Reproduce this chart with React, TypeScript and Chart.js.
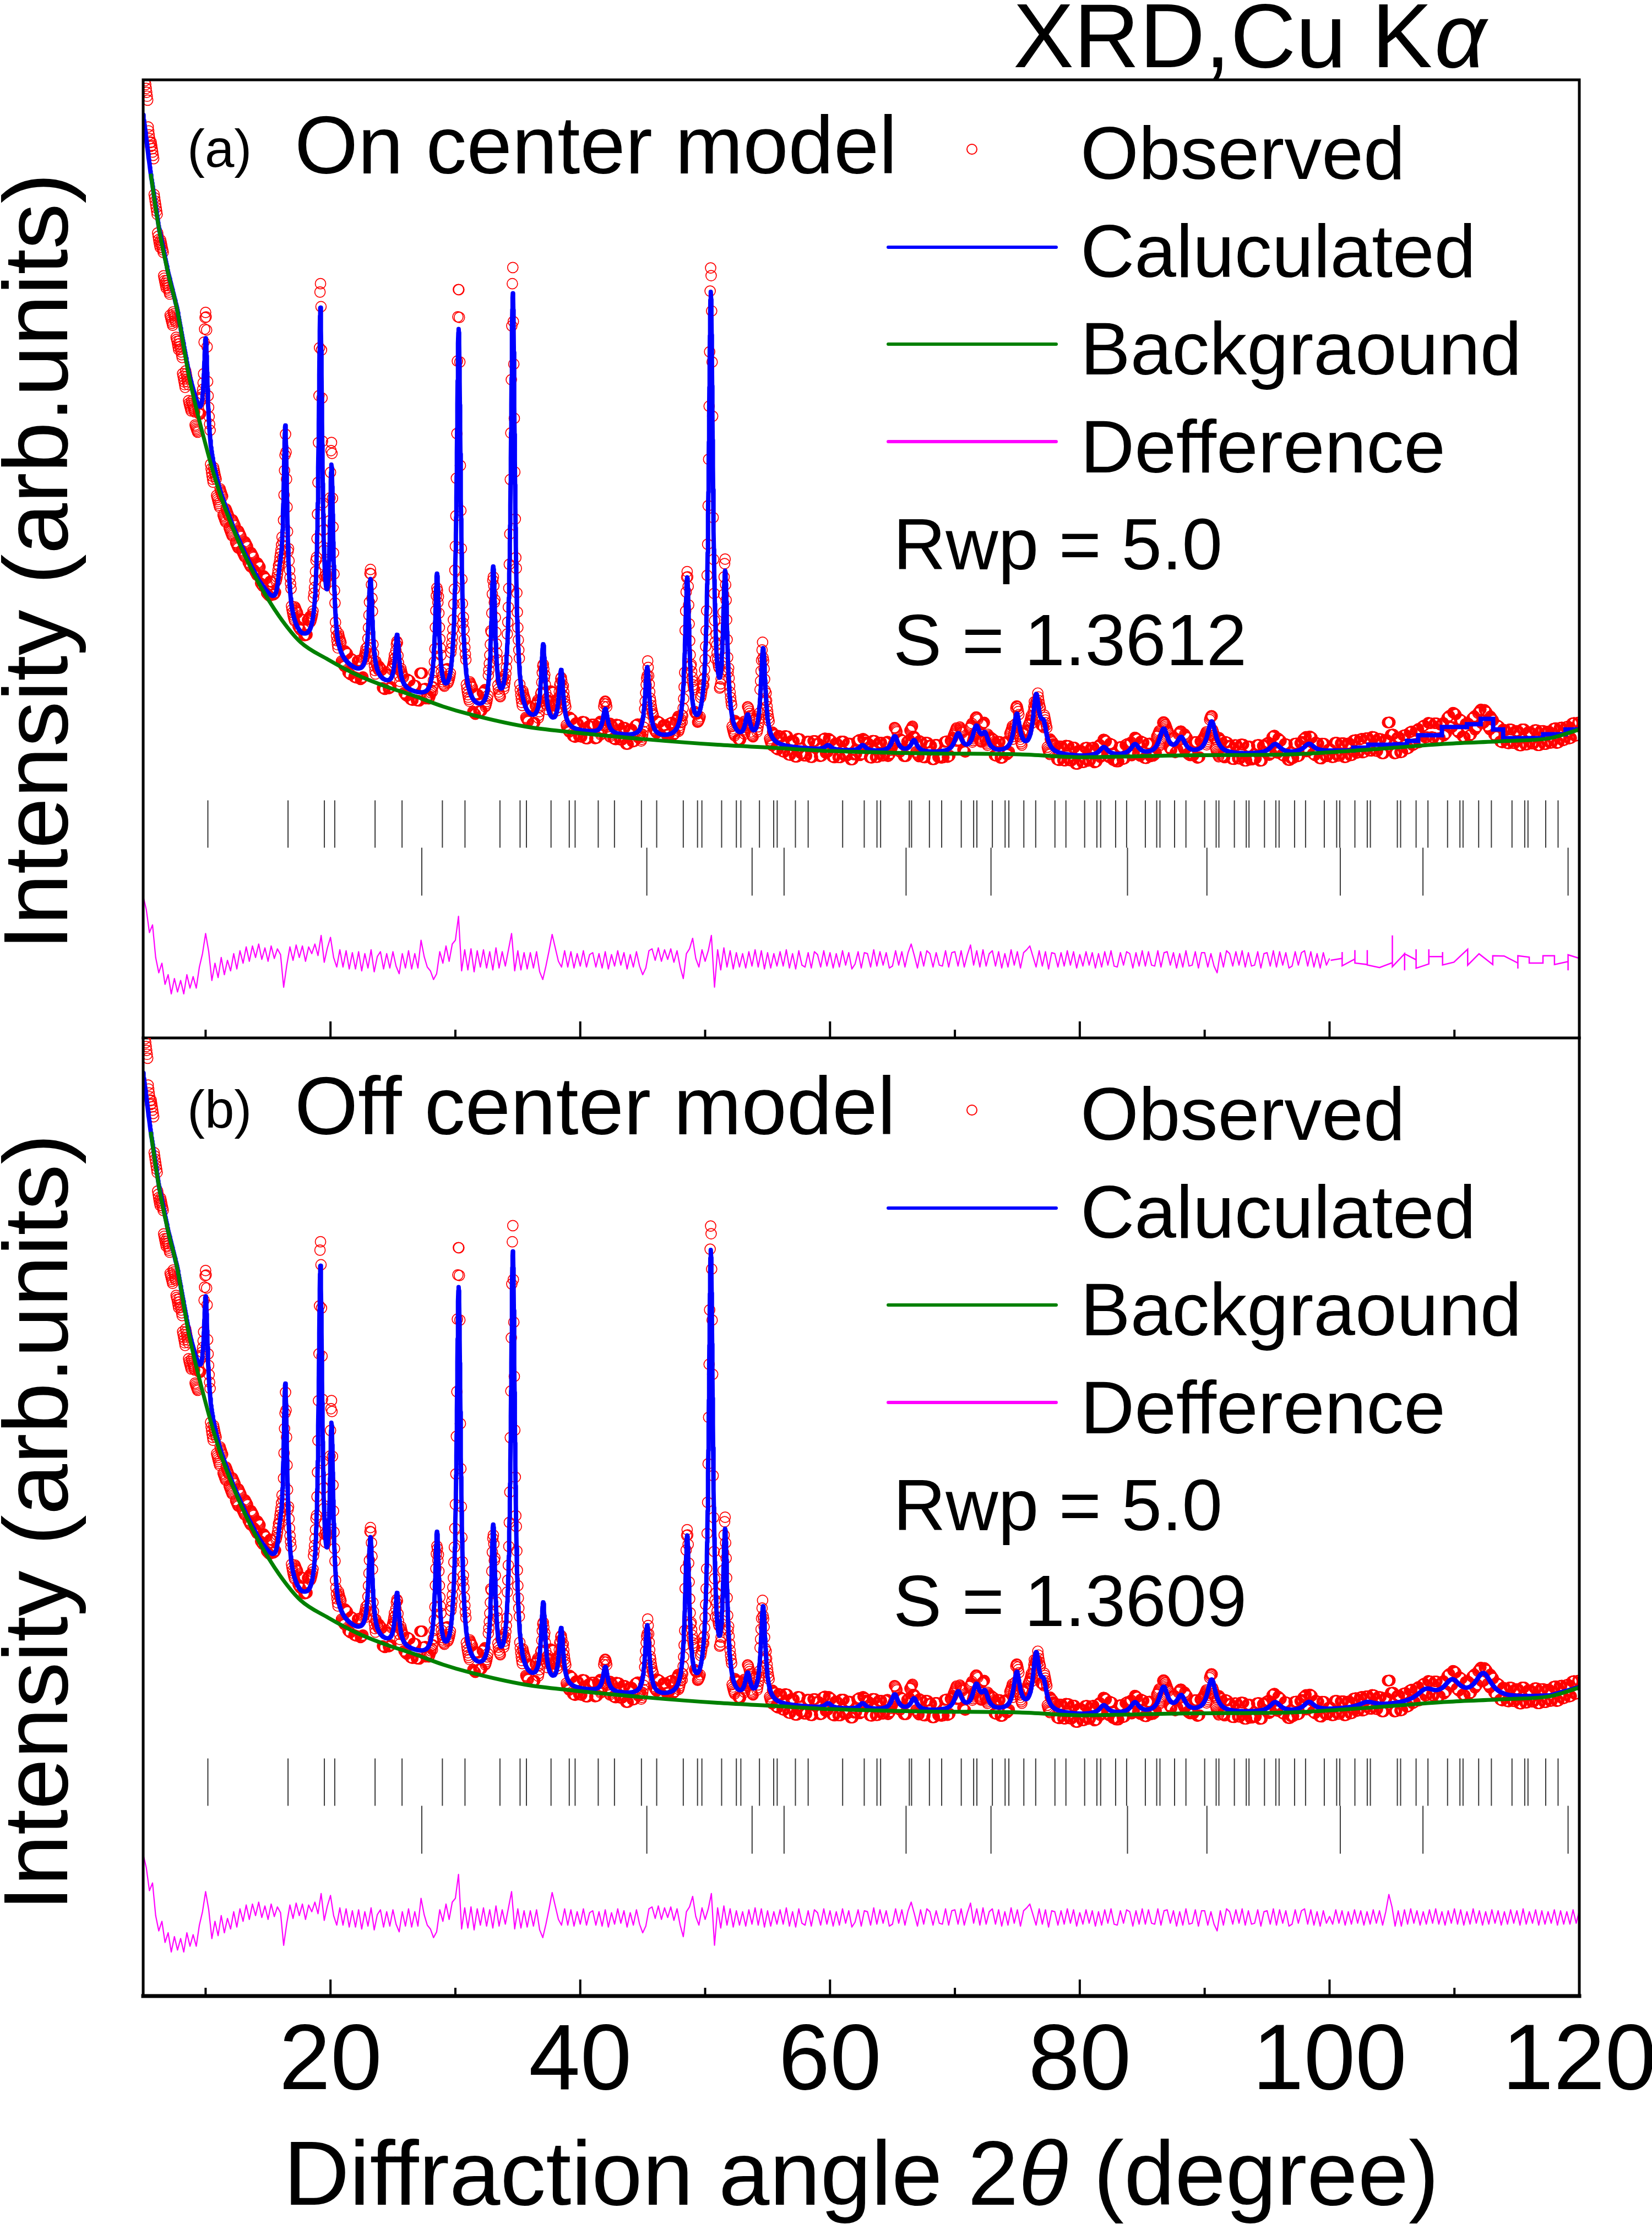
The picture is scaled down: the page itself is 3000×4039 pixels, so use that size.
import { useEffect, useRef } from 'react';
import { Chart, registerables } from 'chart.js';

Chart.register(...registerables);

const FONT = '"Liberation Sans", Arial, Helvetica, sans-serif';

// ---- axis ----
const xMin = 5;
const xMax = 120;
const xMajorTicks = [20, 40, 60, 80, 100, 120];
const xMinorTicks = [10, 30, 50, 70, 90, 110];

// ---- refined background (2θ, intensity) ----
const bgAngles = [5.0, 5.6, 6.26, 7.0, 7.72, 8.68, 10.19, 11.2, 12.22, 13.2, 14.24, 15.9, 17.61, 19.8, 22.11, 24.4, 26.6, 29.0, 31.1, 35.6, 39.4, 45.0, 51.0, 55.3, 60.0, 67.7, 75.2, 80.2, 88.5, 96.9, 101.0, 105.2, 109.4, 114.3, 117.7, 120.0];
const bgValues = [96.3, 90.2, 84.5, 79.8, 76.0, 69.0, 61.0, 56.6, 53.1, 50.2, 47.5, 44.0, 41.3, 39.5, 37.9, 36.7, 35.75, 34.6, 33.8, 32.5, 31.9, 31.2, 30.6, 30.3, 29.95, 29.7, 29.6, 29.3, 29.5, 29.6, 29.9, 30.3, 30.7, 31.0, 31.3, 32.2];
const bgDrawFrom = 5.6;

// ---- reflections of the calculated profile ----
const peakAngles = [10.01, 15.95, 16.38, 19.19, 20.08, 23.2, 25.33, 28.53, 30.26, 33.03, 34.6, 37.03, 38.47, 42.0, 45.36, 48.56, 50.45, 51.6, 53.4, 54.64, 59.84, 62.6, 65.17, 66.71, 70.25, 71.7, 72.4, 74.95, 76.5, 77.1, 81.9, 84.4, 86.7, 88.1, 90.55, 95.63, 98.34, 103.0, 107.7, 109.8, 112.3];
const peakHeights = [11.0, 2.5, 20.0, 35.5, 19.0, 10.3, 5.5, 13.0, 39.5, 15.0, 44.5, 8.3, 6.0, 2.6, 7.3, 16.5, 46.5, 16.5, 2.5, 10.0, 0.5, 0.6, 1.6, 1.2, 1.9, 2.5, 1.6, 3.9, 5.7, 2.4, 0.9, 1.1, 2.6, 1.6, 3.4, 1.0, 0.9, 0.5, 1.2, 1.9, 2.6];
const peakWidths = [0.36, 0.4, 0.36, 0.36, 0.34, 0.38, 0.38, 0.38, 0.4, 0.38, 0.4, 0.4, 0.4, 0.45, 0.42, 0.42, 0.42, 0.42, 0.5, 0.45, 0.6, 0.6, 0.6, 0.6, 0.7, 0.7, 0.6, 0.6, 0.6, 0.6, 0.8, 0.8, 0.8, 0.8, 0.8, 1.0, 1.0, 1.5, 1.8, 1.6, 1.6];

// ---- observed − calculated, every 0.25° from 5° to 100° ----
const diffStart = 5;
const diffStep = 0.25;
const diffValues = [
  6.6, 5.2, 2.8, 3.6, // 5
  0.2, -1.4, -0.4, -2.6, // 6
  -1.6, -3.6, -2.0, -3.4, // 7
  -2.2, -3.6, -1.6, -3.0, // 8
  -1.8, -3.0, -0.8, 0.6, // 9
  2.7, 0.8, -2.2, -0.4, // 10
  -1.9, 0.2, -1.6, -0.1, // 11
  -1.2, 0.6, -1.0, 0.9, // 12
  -0.4, 1.3, -0.2, 1.4, // 13
  0.2, 1.6, 0.0, 1.2, // 14
  -0.2, 1.4, 0.1, 1.1, // 15
  0.5, -2.9, -0.6, 1.3, // 16
  -0.1, 1.5, 0.2, 1.4, // 17
  -0.2, 1.3, 0.6, 1.6, // 18
  0.4, 2.5, -0.3, 1.2, // 19
  2.3, 0.2, -0.8, 1.0, // 20
  -0.8, 0.9, -1.0, 0.7, // 21
  -1.0, 0.8, -1.2, 0.6, // 22
  -0.9, 1.0, -1.3, 0.3, // 23
  0.8, -1.0, 0.6, -0.9, // 24
  0.8, -0.7, -1.5, 0.6, // 25
  -0.9, 0.9, -1.0, 0.6, // 26
  -0.9, 2.0, 0.3, -0.8, // 27
  -1.2, -2.1, -1.5, 0.8, // 28
  -0.4, 1.4, -0.2, 1.6, // 29
  2.0, 4.5, -1.2, 1.0, // 30
  -1.1, 1.1, -1.3, 0.9, // 31
  -0.8, 1.0, -0.9, 0.8, // 32
  -1.1, 1.2, -0.9, 0.8, // 33
  -0.7, 1.0, 2.7, -1.2, // 34
  0.9, -1.1, 0.7, -1.0, // 35
  0.7, -0.9, 0.8, -1.3, // 36
  -2.1, -0.7, 0.9, 2.6, // 37
  1.2, -0.2, -0.8, 0.9, // 38
  -0.8, 0.8, -0.9, 0.6, // 39
  -0.7, 0.9, -0.8, 0.5, // 40
  0.7, -0.8, 0.6, -0.9, // 41
  0.8, -1.0, 0.5, -0.7, // 42
  0.9, -0.6, 0.7, -1.0, // 43
  0.5, -0.8, 0.8, -0.7, // 44
  -1.6, -0.9, 0.9, 1.1, // 45
  -0.1, 1.2, -0.2, 1.0, // 46
  0.0, 1.1, -0.3, 0.9, // 47
  -0.8, -2.0, 0.6, 1.1, // 48
  2.2, 0.1, -0.8, 1.0, // 49
  -0.2, 0.9, 2.5, -2.9, // 50
  1.0, -1.1, 1.2, -0.8, // 51
  0.9, -1.0, 0.7, -0.8, // 52
  0.6, -0.9, 0.8, -0.7, // 53
  1.0, -0.8, 0.9, -1.0, // 54
  0.7, -0.9, 0.6, -0.7, // 55
  0.8, -0.7, 1.0, -0.9, // 56
  0.6, -1.0, 0.9, -0.6, // 57
  -0.8, 0.7, -0.9, 0.8, // 58
  0.5, -0.8, 0.9, -0.7, // 59
  0.7, -0.9, 0.6, -0.8, // 60
  0.9, -0.6, 0.7, -1.0, // 61
  -0.5, 0.8, -0.9, 0.7, // 62
  0.6, -0.8, 1.0, -0.7, // 63
  0.8, -0.6, 0.7, -0.9, // 64
  -0.7, 0.9, -0.6, 0.8, // 65
  -0.8, 0.7, 1.6, 0.4, // 66
  -0.9, 0.8, -0.7, 0.9, // 67
  0.6, -0.8, 0.7, -0.6, // 68
  -0.7, 0.9, -0.8, 0.7, // 69
  0.8, -0.7, 0.9, -0.8, // 70
  0.5, 1.5, -0.6, 0.9, // 71
  -0.8, 1.0, -0.7, 0.6, // 72
  0.9, -0.7, 0.8, -0.9, // 73
  0.6, -0.8, 1.0, -0.6, // 74
  0.8, -0.9, 0.7, 1.0, // 75
  1.4, 0.3, -0.8, 0.9, // 76
  -0.7, 0.8, -1.0, 0.7, // 77
  0.6, -0.8, 0.7, -0.7, // 78
  0.9, -0.6, 0.8, -0.9, // 79
  0.5, -0.7, 0.8, -0.6, // 80
  0.7, -0.9, 0.6, -0.8, // 81
  0.8, -0.6, 0.9, -0.7, // 82
  -0.8, 0.7, -0.6, 0.8, // 83
  0.6, -0.9, 0.7, -0.7, // 84
  0.9, -0.7, 0.8, -0.6, // 85
  -0.7, 0.9, -0.8, 0.7, // 86
  0.8, -0.6, 0.7, -0.9, // 87
  0.6, -0.8, 0.9, -0.7, // 88
  -0.6, 0.8, -0.9, 0.7, // 89
  0.7, -0.8, 0.6, -0.7, // 90
  -1.4, 0.7, -0.8, 0.9, // 91
  0.6, -0.7, 0.8, -0.6, // 92
  0.9, -0.8, 0.7, -0.7, // 93
  -0.6, 0.8, -0.9, 0.6, // 94
  0.7, -0.7, 0.9, -0.8, // 95
  0.8, -0.6, 0.7, -0.9, // 96
  -0.7, 0.8, -0.6, 0.7, // 97
  0.9, -0.7, 0.8, -0.8, // 98
  0.6, -0.9, 0.7, -0.6, // 99
  0.1, // 100
];

// 100.25° – 120° (off-center refinement, same step)
const diffHighValues = [
  -0.7, 0.8, -0.6, // 100
  0.7, -0.8, 0.6, -0.7, // 101
  0.8, -0.6, 0.7, -0.8, // 102
  0.6, -0.7, 0.8, -0.6, // 103
  0.7, -0.8, 0.6, 2.4, // 104
  1.1, -0.9, 0.7, -0.9, // 105
  0.8, -0.7, 0.9, -0.6, // 106
  0.7, -0.8, 0.6, -0.7, // 107
  0.8, -0.6, 0.9, -0.7, // 108
  0.6, -0.8, 0.7, -0.6, // 109
  0.9, -0.7, 0.8, -0.8, // 110
  0.6, -0.7, 0.9, -0.6, // 111
  0.7, -0.8, 0.6, -0.7, // 112
  0.8, -0.6, 0.7, -0.8, // 113
  0.6, -0.7, 0.8, -0.6, // 114
  0.7, -0.8, 0.9, -0.7, // 115
  0.6, -0.6, 0.8, -0.8, // 116
  0.7, -0.7, 0.6, -0.6, // 117
  0.8, -0.8, 0.7, -0.7, // 118
  0.6, -0.7, 0.8, -0.6, // 119
  0.7, // 120
];

// on-center refinement above 100°: coarse difference trace
const diffCoarseAngles = [100.09, 101.01, 101.01, 101.01, 102.03, 102.03, 102.03, 103.02, 103.02, 103.02, 104.0, 105.03, 105.03, 105.03, 106.01, 106.01, 106.01, 106.93, 106.93, 106.93, 107.95, 107.95, 107.95, 109.05, 109.05, 109.05, 109.96, 111.06, 111.06, 111.97, 113.07, 113.07, 113.98, 115.08, 115.08, 115.08, 115.99, 115.99, 117.09, 117.09, 118.01, 118.01, 119.1, 119.1, 119.1, 120.02];
const diffCoarseValues = [-0.1, 0.1, 0.77, -0.67, 0.04, 0.96, -0.38, -0.54, 0.96, -0.58, -0.86, -0.35, 2.5, -0.77, 0.58, -1.15, 0.58, -0.04, 1.06, -0.92, -0.48, 1.06, 0.29, 0.29, 0.77, -0.58, -0.29, 1.06, -0.61, 0.58, -0.54, 0.38, 0.35, -0.38, -0.96, 0.38, 0.23, -0.38, -0.38, 0.38, 0.38, -0.54, -0.23, -1.15, 0.48, 0.1];

// on-center refinement above 100°: stepped calculated trace
const calcStepAngles = [100.0, 101.9, 103.1, 105.2, 106.2, 107.1, 109.0, 111.0, 112.1, 113.1, 113.9, 117.1, 118.9, 120.0];
const calcStepValues = [30.0, 30.3, 30.6, 30.65, 31.0, 31.6, 32.45, 32.75, 33.3, 32.2, 31.3, 31.7, 32.2, 32.2];

// ---- Bragg reflection markers ----
const braggMain = [10.18, 16.6, 19.51, 20.34, 23.57, 25.73, 28.96, 30.77, 33.57, 35.18, 35.69, 37.66, 39.12, 39.59, 41.44, 42.74, 44.9, 46.12, 48.25, 49.39, 49.74, 51.32, 52.5, 52.86, 54.35, 55.49, 55.77, 57.23, 58.25, 61.01, 62.74, 63.76, 64.05, 66.35, 66.53, 67.96, 68.94, 70.51, 71.5, 71.76, 73.0, 74.02, 74.32, 75.52, 76.47, 78.01, 78.89, 80.39, 81.37, 81.67, 82.87, 83.75, 85.25, 86.16, 86.42, 87.59, 88.5, 90.0, 90.92, 91.14, 92.38, 93.33, 93.55, 94.79, 95.7, 95.96, 97.2, 98.08, 99.58, 100.57, 100.82, 102.03, 103.02, 103.27, 105.43, 105.69, 106.93, 107.88, 109.45, 110.44, 110.69, 111.94, 112.96, 114.61, 115.63, 115.89, 117.31, 118.3];
const braggSecond = [27.31, 45.33, 53.76, 56.32, 66.09, 72.89, 83.82, 90.18, 100.86, 107.48, 119.1];

// ---- panel texts ----
const panelTags = ['(a)', '(b)'];
const panelModels = ['On center model', 'Off center model'];
const panelRwp = ['Rwp = 5.0', 'Rwp = 5.0'];
const panelS = ['S = 1.3612', 'S = 1.3609'];
const legendLabels = ['Observed', 'Caluculated', 'Backgraound', 'Defference'];

const OBS_STEP = 0.04;
const CALC_STEP = 0.02;
const DIFF_BASE = 8.2;
const BRAGG_MAIN_RANGE = [19.85, 24.8];
const BRAGG_SECOND_RANGE = [14.85, 19.85];

function bgAt(x: number) {
  let i = 0;
  while (i < bgAngles.length - 2 && x > bgAngles[i + 1]) i++;
  const t = (x - bgAngles[i]) / (bgAngles[i + 1] - bgAngles[i]);
  return bgValues[i] + t * (bgValues[i + 1] - bgValues[i]);
}

function calcAt(x: number) {
  let y = bgAt(x);
  for (let i = 0; i < peakAngles.length; i++) {
    const t = (x - peakAngles[i]) / (peakWidths[i] / 2);
    y += peakHeights[i] / (1 + t * t);
  }
  return y;
}

const diffAll = diffValues.concat(diffHighValues);
function diffAt(x: number) {
  const i = Math.round((x - diffStart) / diffStep);
  return diffAll[Math.max(0, Math.min(diffAll.length - 1, i))];
}

function gridPoints(from: number, to: number, step: number) {
  const n = Math.round((to - from) / step);
  const xs: number[] = [];
  for (let i = 0; i <= n; i++) xs.push(+(from + i * step).toFixed(3));
  return xs;
}

const observedPoints = gridPoints(xMin, xMax, OBS_STEP).map((x) => ({ x, y: calcAt(x) + diffAt(x) }));
const calcPointsFull = gridPoints(xMin, xMax, CALC_STEP).map((x) => ({ x, y: calcAt(x) }));
const calcPointsTo100 = calcPointsFull.filter((p) => p.x <= 100);
const calcStepPoints = calcStepAngles.map((x, i) => ({ x, y: calcStepValues[i] }));
const bgPoints = bgAngles.map((x, i) => ({ x, y: bgValues[i] })).filter((p) => p.x >= bgDrawFrom);

const diffFinePoints = diffValues.map((d, i) => ({ x: diffStart + i * diffStep, y: DIFF_BASE + d }));
const diffAllPoints = diffAll.map((d, i) => ({ x: diffStart + i * diffStep, y: DIFF_BASE + d }));
const diffCoarsePoints = diffCoarseAngles.map((x, i) => ({ x, y: DIFF_BASE + diffCoarseValues[i] }));

function braggRow(list: number[], range: number[]) {
  const pts: { x: number; y: number | null }[] = [];
  list.forEach((x) => {
    pts.push({ x, y: range[0] }, { x, y: range[1] }, { x, y: null });
  });
  return pts;
}

// page layout of the two panels
const CANVAS_TOP = [0, 1860];
const CANVAS_HEIGHT = [1900, 2179];
const PANEL_SHIFT = [0, 1745];

function drawDecor(chart: any, panel: number) {
  const ctx: CanvasRenderingContext2D = chart.ctx;
  const { left, right, top, bottom } = chart.chartArea;
  const xs = chart.scales.x;
  const oy = -CANVAS_TOP[panel];
  const sh = PANEL_SHIFT[panel];
  const isBottom = panel === 1;

  ctx.save();
  ctx.strokeStyle = '#000';
  ctx.fillStyle = '#000';

  // frame
  ctx.lineCap = 'square';
  ctx.lineWidth = 5;
  ctx.beginPath();
  ctx.moveTo(left, bottom);
  ctx.lineTo(left, top);
  if (!isBottom) ctx.lineTo(right, top);
  else ctx.moveTo(right, top);
  ctx.lineTo(right, bottom);
  ctx.stroke();
  ctx.lineWidth = isBottom ? 7 : 5;
  ctx.beginPath();
  ctx.moveTo(left, bottom);
  ctx.lineTo(right, bottom);
  ctx.stroke();

  // inward ticks along the bottom edge
  ctx.lineCap = 'butt';
  ctx.lineWidth = 4;
  xMajorTicks.forEach((v) => {
    const px = xs.getPixelForValue(v);
    ctx.beginPath();
    ctx.moveTo(px, bottom);
    ctx.lineTo(px, bottom - 30);
    ctx.stroke();
  });
  xMinorTicks.forEach((v) => {
    const px = xs.getPixelForValue(v);
    ctx.beginPath();
    ctx.moveTo(px, bottom);
    ctx.lineTo(px, bottom - 15);
    ctx.stroke();
  });

  ctx.textBaseline = 'alphabetic';
  ctx.textAlign = 'left';

  // panel tag and model name
  ctx.font = `96px ${FONT}`;
  ctx.fillText(panelTags[panel], 340, 303 + sh + oy);
  ctx.font = `148px ${FONT}`;
  ctx.fillText(panelModels[panel], 535, 315 + sh + oy);

  // legend
  ctx.strokeStyle = '#ff0000';
  ctx.lineWidth = 2;
  ctx.beginPath();
  ctx.arc(1765, 271 + sh + oy, 9, 0, Math.PI * 2);
  ctx.stroke();
  const legendColors = ['#0000ff', '#008000', '#ff00ff'];
  const legendLineY = [449, 625, 802];
  ctx.lineCap = 'round';
  ctx.lineWidth = 6;
  legendColors.forEach((c, i) => {
    ctx.strokeStyle = c;
    ctx.beginPath();
    ctx.moveTo(1613, legendLineY[i] + sh + oy);
    ctx.lineTo(1918, legendLineY[i] + sh + oy);
    ctx.stroke();
  });
  ctx.font = `136px ${FONT}`;
  const legendBase = [325, 503, 680, 858];
  legendLabels.forEach((t, i) => ctx.fillText(t, 1962, legendBase[i] + sh + oy));

  ctx.font = `132px ${FONT}`;
  ctx.fillText(panelRwp[panel], 1622, 1034 + sh + oy);
  ctx.fillText(panelS[panel], 1622, 1208 + sh + oy);

  // y axis title
  ctx.save();
  ctx.translate(122, 1020 + sh + oy);
  ctx.rotate(-Math.PI / 2);
  ctx.textAlign = 'center';
  ctx.font = `166px ${FONT}`;
  ctx.fillText('Intensity (arb.units)', 0, 0);
  ctx.restore();

  if (!isBottom) {
    // header
    ctx.font = `165px ${FONT}`;
    const head = 'XRD,Cu K';
    ctx.fillText(head, 1840, 122);
    const w = ctx.measureText(head).width;
    ctx.font = `italic 165px ${FONT}`;
    ctx.fillText('α', 1840 + w + 4, 122);
  } else {
    // x axis title with italic theta
    const parts: [string, boolean][] = [['Diffraction angle 2', false], ['θ', true], [' (degree)', false]];
    let total = 0;
    const widths = parts.map(([t, it]) => {
      ctx.font = `${it ? 'italic ' : ''}166px ${FONT}`;
      const w = ctx.measureText(t).width;
      total += w;
      return w;
    });
    let x = (left + right) / 2 - total / 2;
    parts.forEach(([t, it], i) => {
      ctx.font = `${it ? 'italic ' : ''}166px ${FONT}`;
      ctx.fillText(t, x, 4004 + oy);
      x += widths[i];
    });
  }
  ctx.restore();
}

function buildConfig(panel: number): any {
  const isTop = panel === 0;
  const datasets: any[] = [
    {
      label: legendLabels[0],
      data: observedPoints,
      showLine: false,
      pointRadius: 9.5,
      pointBorderWidth: 1.7,
      pointBorderColor: '#ff0000',
      pointBackgroundColor: 'rgba(255,255,255,0)',
      order: 9,
    },
    {
      label: legendLabels[1],
      data: isTop ? calcPointsTo100 : calcPointsFull,
      borderColor: '#0000ff',
      borderWidth: 8,
      borderJoinStyle: 'round',
      borderCapStyle: 'round',
      pointRadius: 0,
      order: 8,
    },
  ];
  if (isTop) {
    datasets.push({
      label: legendLabels[1] + ' >100',
      data: calcStepPoints,
      stepped: 'before',
      borderColor: '#0000ff',
      borderWidth: 8,
      borderJoinStyle: 'miter',
      pointRadius: 0,
      order: 7,
    });
  }
  datasets.push(
    {
      label: legendLabels[2],
      data: bgPoints,
      borderColor: '#008000',
      borderWidth: 7,
      cubicInterpolationMode: 'monotone',
      pointRadius: 0,
      order: 6,
    },
    {
      label: legendLabels[3],
      data: isTop ? diffFinePoints : diffAllPoints,
      borderColor: '#ff00ff',
      borderWidth: 2.2,
      borderJoinStyle: 'round',
      pointRadius: 0,
      order: 5,
    },
    {
      label: 'Bragg main',
      data: braggRow(braggMain, BRAGG_MAIN_RANGE),
      borderColor: '#3a3a3a',
      borderWidth: 2,
      pointRadius: 0,
      spanGaps: false,
      order: 3,
    },
    {
      label: 'Bragg second',
      data: braggRow(braggSecond, BRAGG_SECOND_RANGE),
      borderColor: '#3a3a3a',
      borderWidth: 2,
      pointRadius: 0,
      spanGaps: false,
      order: 2,
    }
  );
  if (isTop) {
    datasets.push({
      label: legendLabels[3] + ' >100',
      data: diffCoarsePoints,
      borderColor: '#ff00ff',
      borderWidth: 2.5,
      pointRadius: 0,
      order: 4,
    });
  }

  const xScale: any = {
    type: 'linear',
    min: xMin,
    max: xMax,
    display: !isTop,
    position: 'bottom',
    grid: { display: false, drawTicks: false },
    border: { display: false },
    afterBuildTicks: (s: any) => {
      s.ticks = xMajorTicks.map((v) => ({ value: v }));
    },
    ticks: {
      autoSkip: false,
      maxRotation: 0,
      minRotation: 0,
      padding: 22,
      color: '#000',
      font: { family: FONT, size: 168 },
    },
  };
  if (!isTop) {
    xScale.afterFit = (s: any) => {
      s.height = 414;
      s.paddingLeft = 0;
      s.paddingRight = 0;
    };
  }

  return {
    type: 'line',
    data: { datasets },
    options: {
      animation: false,
      responsive: false,
      devicePixelRatio: 1,
      events: [],
      layout: {
        padding: isTop
          ? { left: 260, right: 132, top: 145, bottom: 15 }
          : { left: 260, right: 132, top: 25, bottom: 0 },
      },
      plugins: { legend: { display: false }, tooltip: { enabled: false }, title: { display: false } },
      scales: {
        x: xScale,
        y: { type: 'linear', min: 0, max: 100, display: false },
      },
    },
    plugins: [
      {
        id: 'panelDecor' + panel,
        afterDraw: (chart: any) => drawDecor(chart, panel),
      },
    ],
  };
}

export default function App() {
  const topRef = useRef<HTMLCanvasElement>(null);
  const botRef = useRef<HTMLCanvasElement>(null);

  useEffect(() => {
    const charts = [new Chart(topRef.current as HTMLCanvasElement, buildConfig(0)), new Chart(botRef.current as HTMLCanvasElement, buildConfig(1))];
    return () => charts.forEach((c) => c.destroy());
  }, []);

  return (
    <div style={{ position: 'absolute', left: 0, top: 0, width: 3000, height: 4039, background: '#ffffff' }}>
      <canvas ref={topRef} width={3000} height={CANVAS_HEIGHT[0]} style={{ position: 'absolute', left: 0, top: CANVAS_TOP[0], width: 3000, height: CANVAS_HEIGHT[0] }} />
      <canvas ref={botRef} width={3000} height={CANVAS_HEIGHT[1]} style={{ position: 'absolute', left: 0, top: CANVAS_TOP[1], width: 3000, height: CANVAS_HEIGHT[1] }} />
    </div>
  );
}
